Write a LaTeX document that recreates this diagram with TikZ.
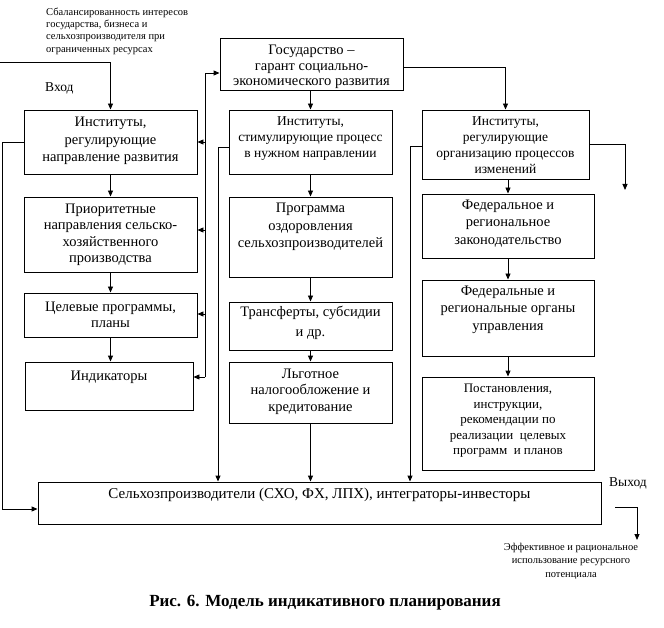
\documentclass[tikz,border=0pt]{standalone}
\usepackage{fontspec}
\setmainfont{Liberation Serif}
\usetikzlibrary{arrows.meta}
\begin{document}
\begin{tikzpicture}[x=1pt,y=-1pt,
 box/.style={draw, line width=0.9pt, inner sep=0pt},
 lbl/.style={inner sep=0pt, align=center, font=\fontsize{14.5}{17.5}\selectfont},
 lbls/.style={inner sep=0pt, align=center, font=\fontsize{13.5}{16}\selectfont},
 lblj/.style={inner sep=0pt, align=center, font=\fontsize{13}{15.5}\selectfont},
 note/.style={inner sep=0pt, font=\fontsize{10.5}{12.3}\selectfont},
 ln/.style={line width=0.9pt},
 arr/.style={ln, -{Triangle[length=6pt,width=5pt]}},
]
\useasboundingbox (0,0) rectangle (664,628);

% boxes
\node[box, minimum width=173pt, minimum height=64pt] (A) at (110.5,142) {};
\node[box, minimum width=173pt, minimum height=75pt] (B) at (110.5,234.5) {};
\node[box, minimum width=173pt, minimum height=44pt] (C) at (110.5,315) {};
\node[box, minimum width=168pt, minimum height=48pt] (D) at (109,386) {};
\node[box, minimum width=183pt, minimum height=52pt] (S) at (311.5,64) {};
\node[box, minimum width=163pt, minimum height=64pt] (E) at (310.5,142) {};
\node[box, minimum width=163pt, minimum height=80pt] (F) at (310.5,237) {};
\node[box, minimum width=163pt, minimum height=48pt] (T) at (310.5,326) {};
\node[box, minimum width=163pt, minimum height=61pt] (L) at (310.5,392.5) {};
\node[box, minimum width=167pt, minimum height=69pt] (G) at (505.5,144.5) {};
\node[box, minimum width=172pt, minimum height=64pt] (H) at (508,226) {};
\node[box, minimum width=172pt, minimum height=76pt] (I) at (508,318) {};
\node[box, minimum width=172pt, minimum height=93pt] (J) at (508,423.5) {};
\node[box, minimum width=563pt, minimum height=42pt] (K) at (319.5,503) {};

% texts
\node[lbl] (At) at (110.5,141) {Институты,\\регулирующие\\направление развития};
\node[lbl, font=\fontsize{14.5}{16.5}\selectfont] (Bt) at (110.5,235) {Приоритетные\\направления сельско-\\хозяйственного\\производства};
\node[lbl, font=\fontsize{14.5}{15.5}\selectfont] (Ct) at (110.5,315) {Целевые программы,\\планы};
\node[lbl] (Dt) at (109,377) {Индикаторы};
\node[lbl, font=\fontsize{14.5}{15.5}\selectfont] (St) at (311.5,67) {Государство --\\гарант социально-\\экономического развития};
\node[lbls] (Et) at (310.5,139) {Институты,\\стимулирующие процесс\\в нужном направлении};
\node[lbl] (Ft) at (310.5,227) {Программа\\оздоровления\\сельхозпроизводителей};
\node[lbl, font=\fontsize{14.5}{20}\selectfont] (Tt) at (310.5,323) {Трансферты, субсидии\\и др.};
\node[lbl, font=\fontsize{14.5}{16.5}\selectfont] (Lt) at (310.5,391.5) {Льготное\\налогообложение и\\кредитование};
\node[lbls] (Gt) at (505.5,145) {Институты,\\регулирующие\\организацию процессов\\изменений};
\node[lbl] (Ht) at (508,223.5) {Федеральное и\\региональное\\законодательство};
\node[lbl] (It) at (508,309.5) {Федеральные и\\региональные органы\\управления};
\node[lblj] (Jt) at (508,421) {Постановления,\\инструкции,\\рекомендации по\\реализации\ \ целевых\\программ\ \ и планов};
\node[lbl, font=\fontsize{15}{17}\selectfont] (Kt) at (319.5,495) {Сельхозпроизводители (СХО, ФХ, ЛПХ), интеграторы-инвесторы};

% free notes
\node[note, align=left, anchor=west] (n1) at (46,31) {Сбалансированность интересов\\государства, бизнеса и\\сельхозпроизводителя при\\ограниченных ресурсах};
\node[note, font=\fontsize{13.5}{15}\selectfont, anchor=west] (vh) at (45,88) {Вход};
\node[note, font=\fontsize{13.5}{15}\selectfont] (vy) at (628,483) {Выход};
\node[note, align=center, font=\fontsize{10.5}{13.5}\selectfont] (n2) at (571,561) {Эффективное и рациональное\\использование ресурсного\\потенциала};
\node[inner sep=0pt, font=\fontsize{17}{19}\selectfont\bfseries] (cap) at (325,603) {Рис. 6. Модель индикативного планирования};

% coordinates
\coordinate (in) at (0,62);
\coordinate (bus0) at (205,377);
\coordinate (bus1) at (205,73);
\coordinate (eL) at (218,147);
\coordinate (gL) at (410,146);
\coordinate (outa) at (615,507);
\coordinate (outb) at (637,507);
\coordinate (outc) at (637,540);
\coordinate (gr) at (625,190);

% connectors
\draw[arr] (in) -| (A.north);
\draw[arr] (A) -- (B);
\draw[arr] (B) -- (C);
\draw[arr] (C.south) -- (C.south |- D.north);
\draw[arr] (A.west) -- (2,142) |- (K.west |- 0,509);
\draw[ln] (bus0) -- (bus1);
\draw[arr] (bus1) -- (S.west |- bus1);
\draw[arr] (205,142) -- (A.east);
\draw[arr] (205,230) -- (B.east |- 0,230);
\draw[arr] (205,314) -- (C.east |- 0,314);
\draw[arr] (bus0) -- (D.east |- bus0);
\draw[arr] (S.south -| E.north) -- (E.north);
\draw[arr] (S.east |- 0,67) -| (G.north);
\draw[arr] (E.west |- eL) -- (eL) -- (eL |- K.north);
\draw[arr] (E) -- (F);
\draw[arr] (F) -- (T);
\draw[arr] (T) -- (L);
\draw[arr] (L) -- (L.south |- K.north);
\draw[arr] (G.west |- gL) -- (gL) -- (gL |- K.north);
\draw[arr] (G.east |- 0,144) -| (gr);
\draw[arr] (G.south -| H.north) -- (H.north);
\draw[arr] (H) -- (I);
\draw[arr] (I) -- (J);
\draw[arr] (outa) -- (outb) -- (outc);
\end{tikzpicture}
\end{document}
